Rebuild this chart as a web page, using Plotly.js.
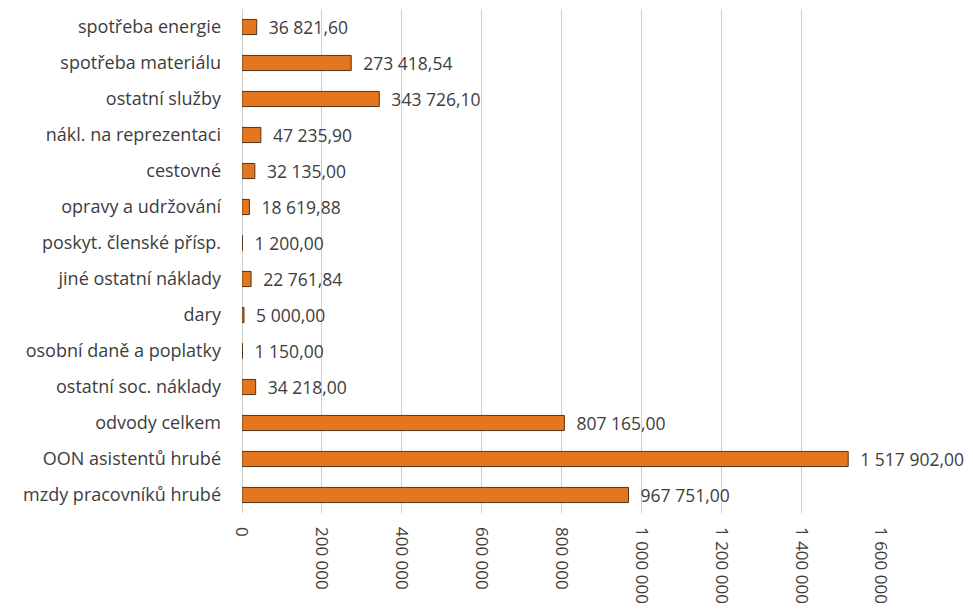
<!DOCTYPE html>
<html>
<head>
<meta charset="utf-8">
<script src="https://cdn.plot.ly/plotly-3.0.1.min.js"></script>
<style>html,body{margin:0;padding:0;background:#fff;}#chart{width:973px;height:613px;}</style>
</head>
<body>
<div id="chart"></div>
<script>
// Categories listed bottom to top (as drawn on the y axis)
const categories = [
  "mzdy pracovníků hrubé",
  "OON asistentů hrubé",
  "odvody celkem",
  "ostatní soc. náklady",
  "osobní daně a poplatky",
  "dary",
  "jiné ostatní náklady",
  "poskyt. členské přísp.",
  "opravy a udržování",
  "cestovné",
  "nákl. na reprezentaci",
  "ostatní služby",
  "spotřeba materiálu",
  "spotřeba energie"
];
const values = [
  967751.00,
  1517902.00,
  807165.00,
  34218.00,
  1150.00,
  5000.00,
  22761.84,
  1200.00,
  18619.88,
  32135.00,
  47235.90,
  343726.10,
  273418.54,
  36821.60
];
const xTickValues = [0, 200000, 400000, 600000, 800000, 1000000, 1200000, 1400000, 1600000];

const font = "'Open Sans', 'Noto Sans', sans-serif";

const trace = {
  type: 'bar',
  orientation: 'h',
  y: categories,
  x: values,
  width: 0.42,
  marker: {color: '#E3761E', line: {color: '#553417', width: 1}},
  texttemplate: '  %{x:,.2f}',
  textposition: 'outside',
  constraintext: 'none',
  cliponaxis: false,
  textfont: {family: font, size: 17.5, color: '#3d3d3d'},
  hoverinfo: 'skip'
};

const layout = {
  width: 973,
  height: 613,
  separators: ', ',
  margin: {l: 242, r: 92, t: 9, b: 100},
  paper_bgcolor: '#fff',
  plot_bgcolor: '#fff',
  showlegend: false,
  xaxis: {
    range: [0, 1600000],
    tickvals: xTickValues,
    tickformat: ',d',
    tickangle: 90,
    showgrid: true,
    gridcolor: '#cfcfcf',
    gridwidth: 1,
    zeroline: true,
    zerolinecolor: '#cfcfcf',
    zerolinewidth: 1,
    showline: false,
    ticks: '',
    ticklabelstandoff: 13,
    tickfont: {family: font, size: 17, color: '#3d3d3d'},
    fixedrange: true
  },
  yaxis: {
    type: 'category',
    categoryorder: 'array',
    categoryarray: categories,
    showgrid: false,
    zeroline: false,
    showline: false,
    ticks: '',
    ticklabelstandoff: 20,
    tickfont: {family: font, size: 18, color: '#3d3d3d'},
    fixedrange: true
  }
};

Plotly.newPlot('chart', [trace], layout, {displayModeBar: false, staticPlot: true});
</script>
</body>
</html>
